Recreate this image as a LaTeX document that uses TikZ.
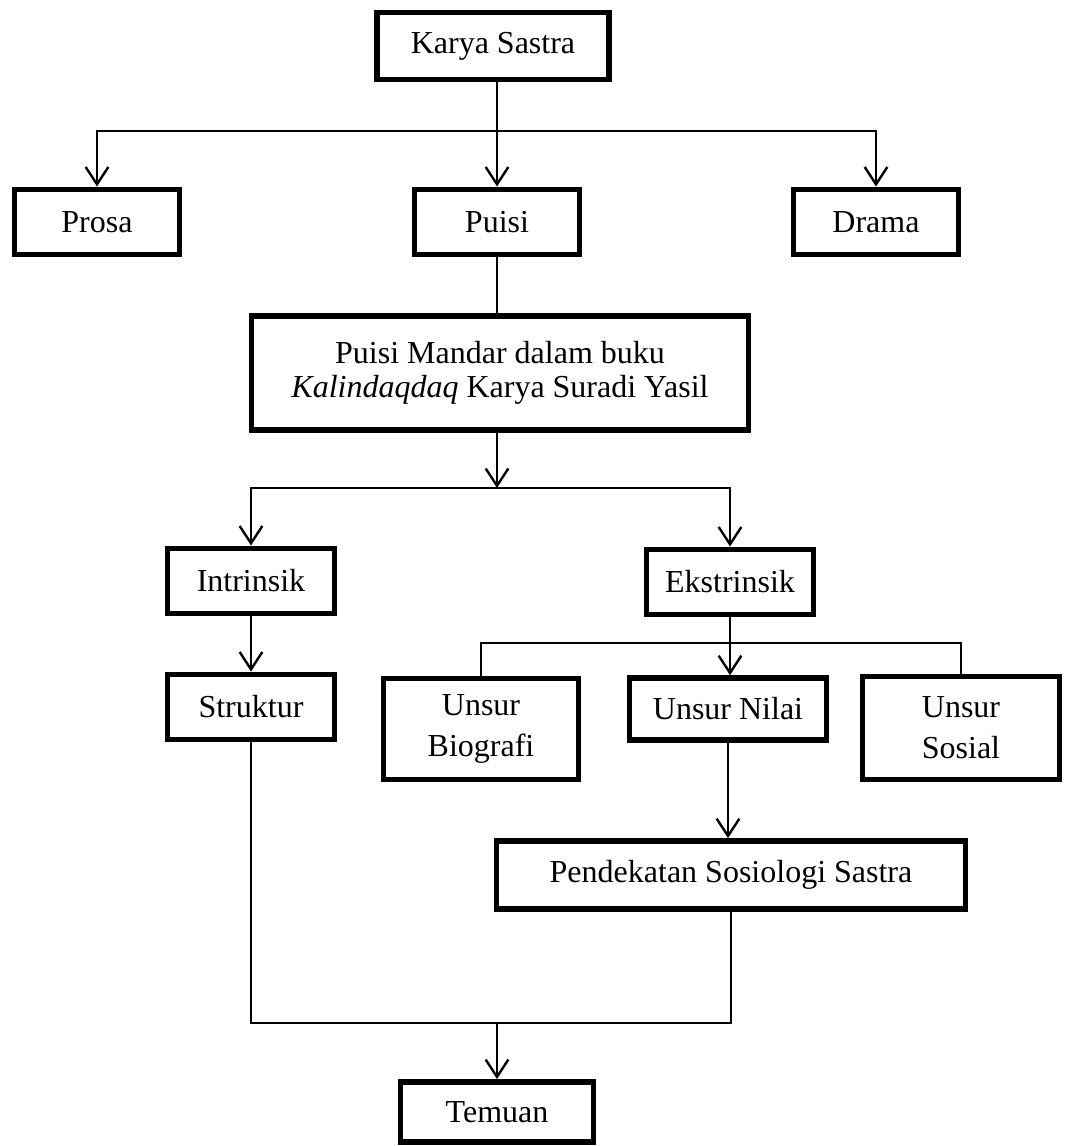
\documentclass[tikz,border=0pt]{standalone}
\usepackage{fontspec}
\setmainfont{Liberation Serif}
\usetikzlibrary{arrows.meta}

\begin{document}
\begin{tikzpicture}[x=0.375pt, y=-0.375pt,
    kotak/.style={draw, line width=2.1pt, align=center, inner sep=0pt,
      font=\fontsize{12}{15.5}\selectfont},
    garis/.style={line width=0.8pt},
    panah/.style={line width=0.9pt, -{Straight Barb[length=6.5pt, width=8.5pt]}}]
  \useasboundingbox (0,0) rectangle (1069,1146);

  \node[kotak, minimum width=87pt, minimum height=25pt] at (493,46) (karya) {Karya Sastra};
  \node[kotak, minimum width=62pt, minimum height=24.5pt] at (97,222) (prosa) {Prosa};
  \node[kotak, minimum width=62pt, minimum height=24.5pt] at (497,222) (puisi) {Puisi};
  \node[kotak, minimum width=62pt, minimum height=24.5pt] at (876,222) (drama) {Drama};
  \node[kotak, minimum width=186.5pt, minimum height=42.75pt,
        font=\fontsize{12}{12.5}\selectfont] at (500,373) (mandar)
        {Puisi Mandar dalam buku\\\textit{Kalindaqdaq} Karya Suradi Yasil};
  \node[kotak, minimum width=62.5pt, minimum height=24.5pt] at (251,581) (intrinsik) {Intrinsik};
  \node[kotak, minimum width=62.5pt, minimum height=24.5pt] at (730,582) (ekstrinsik) {Ekstrinsik};
  \node[kotak, minimum width=62.5pt, minimum height=24.5pt] at (251,707) (struktur) {Struktur};
  \node[kotak, minimum width=73pt, minimum height=38pt] at (481,729) (biografi) {Unsur\\Biografi};
  \node[kotak, minimum width=74pt, minimum height=23.25pt] at (728,709) (nilai) {Unsur Nilai};
  \node[kotak, minimum width=74pt, minimum height=38.5pt] at (961,728) (sosial) {Unsur\\Sosial};
  \node[kotak, minimum width=176pt, minimum height=25.5pt] at (731,875) (pendekatan) {Pendekatan Sosiologi Sastra};
  \node[kotak, minimum width=72.5pt, minimum height=22.6pt] at (497,1112) (temuan) {Temuan};

  \coordinate (cab1) at (497,131);
  \coordinate (cab2) at (497,488);
  \coordinate (cab3) at (730,643);
  \coordinate (cab4) at (497,1023);

  \draw[panah] (karya.south -| puisi.north) -- (puisi.north);
  \draw[panah] (cab1) -| (prosa.north);
  \draw[panah] (cab1) -| (drama.north);
  \draw[garis] (puisi.south) -- (puisi.south |- mandar.north);
  \draw[panah] (mandar.south -| cab2) -- (cab2);
  \draw[panah] (cab2) -| (intrinsik.north);
  \draw[panah] (cab2) -| (ekstrinsik.north);
  \draw[panah] (intrinsik.south) -- (struktur.north);
  \draw[panah] (ekstrinsik.south) -- (ekstrinsik.south |- nilai.north);
  \draw[garis] (biografi.north) -- (biografi.north |- cab3) -- (sosial.north |- cab3) -- (sosial.north);
  \draw[panah] (nilai.south) -- (nilai.south |- pendekatan.north);
  \draw[garis] (struktur.south) |- (cab4) -| (pendekatan.south);
  \draw[panah] (cab4) -- (temuan.north);
\end{tikzpicture}
\end{document}
